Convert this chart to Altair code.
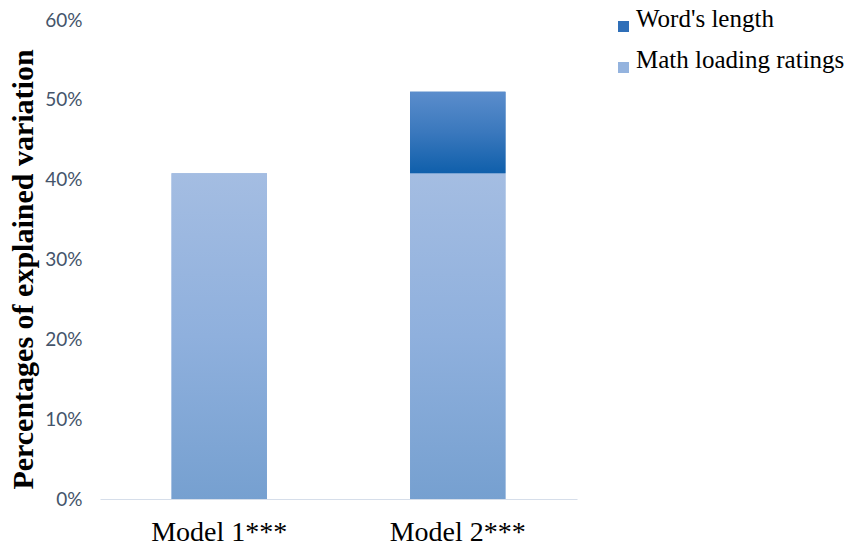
import altair as alt
import pandas as pd

models = ["Model 1***", "Model 2***"]
math_loading = [0.408, 0.408]
word_length = [0.0, 0.102]
series = ["Word's length", "Math loading ratings"]
solid_colors = ["#2f6fb8", "#94b3de"]

rows = []
for m, a, b in zip(models, math_loading, word_length):
    rows.append({"model": m, "series": "Math loading ratings", "start": 0.0, "end": a})
    if b > 0:
        rows.append({"model": m, "series": "Word's length", "start": a, "end": a + b})
df = pd.DataFrame(rows)

light_grad = alt.LinearGradient(
    gradient="linear", x1=0, x2=0, y1=0, y2=1,
    stops=[alt.GradientStop(color="#a4bde2", offset=0),
           alt.GradientStop(color="#8fb0dd", offset=0.5),
           alt.GradientStop(color="#76a0d0", offset=1)])
dark_grad = alt.LinearGradient(
    gradient="linear", x1=0, x2=0, y1=0, y2=1,
    stops=[alt.GradientStop(color="#5b8dcc", offset=0),
           alt.GradientStop(color="#3a78bd", offset=0.5),
           alt.GradientStop(color="#0f5fab", offset=1)])

x_enc = alt.X("model:N", sort=models,
              scale=alt.Scale(paddingInner=0.6, paddingOuter=0.3),
              axis=alt.Axis(title=None, labelAngle=0, labelFont="Liberation Serif",
                            labelFontSize=28, labelColor="#000000", labelPadding=19,
                            ticks=False, domainColor="#d6deea", domainWidth=1.2))
y_enc = alt.Y("start:Q", scale=alt.Scale(domain=[0, 0.6], nice=False),
              axis=alt.Axis(title="Percentages of explained variation", format=".0%",
                            values=[0, 0.1, 0.2, 0.3, 0.4, 0.5, 0.6],
                            grid=False, domain=False, ticks=False,
                            labelFont="Lato", labelFontSize=19, labelColor="#44546a",
                            labelPadding=18, titleFont="Liberation Serif",
                            titleFontSize=30, titleFontWeight="bold",
                            titleColor="#000000", titlePadding=6, titleY=249))

base = alt.Chart(df).encode(x=x_enc, y=y_enc, y2="end:Q")

legend_layer = base.mark_bar().encode(
    color=alt.Color("series:N", scale=alt.Scale(domain=series, range=solid_colors),
                    legend=alt.Legend(title=None, orient="none", legendX=511, legendY=-6,
                                      symbolType="square", symbolSize=121,
                                      labelFont="Liberation Serif", labelFontSize=25,
                                      labelBaseline="alphabetic",
                                      labelColor="#000000", rowPadding=15,
                                      labelLimit=400, padding=0,
                                      symbolStrokeWidth=0, labelOffset=0))
)
light_layer = base.transform_filter(alt.datum.series == "Math loading ratings").mark_bar(
    color=light_grad)
dark_layer = base.transform_filter(alt.datum.series == "Word's length").mark_bar(
    color=dark_grad)

chart = alt.layer(legend_layer, light_layer, dark_layer).properties(
    width=477, height=479,
    autosize=alt.AutoSizeParams(type="none"),
    padding={"left": 100, "top": 20, "right": 271, "bottom": 46},
    background="white",
).configure_view(strokeWidth=0, stroke=None)

chart.save("out.html", embed_options={"renderer": "svg", "actions": False})
